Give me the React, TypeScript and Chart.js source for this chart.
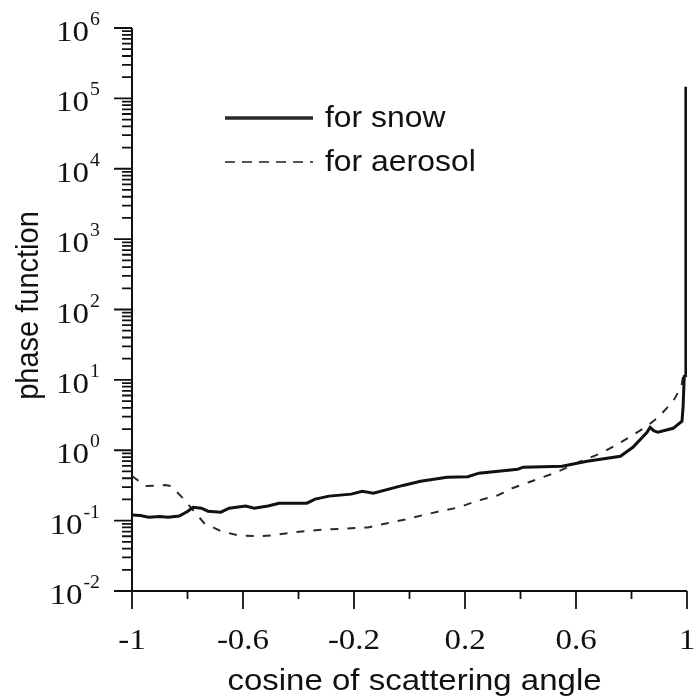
import React, { useEffect, useRef } from "react";
import { Chart, registerables } from "chart.js";

Chart.register(...registerables);

// ---- data ----
const snowX = [
  -1.0, -0.97, -0.94, -0.9, -0.87, -0.83, -0.8, -0.78, -0.75, -0.726, -0.68, -0.65,
  -0.59, -0.56, -0.51, -0.47, -0.37, -0.34, -0.29, -0.21, -0.17, -0.13, -0.02, 0.04,
  0.135, 0.21, 0.25, 0.39, 0.41, 0.55, 0.64, 0.76, 0.805, 0.856, 0.867, 0.88, 0.895,
  0.95, 0.982, 0.986, 0.99, 0.995, 0.996,
];
const snowY = [
  0.12, 0.118, 0.112, 0.114, 0.112, 0.116, 0.135, 0.155, 0.15, 0.136, 0.132, 0.15,
  0.161, 0.15, 0.161, 0.177, 0.177, 0.202, 0.223, 0.238, 0.262, 0.245, 0.319, 0.363,
  0.414, 0.42, 0.472, 0.537, 0.574, 0.593, 0.698, 0.822, 1.1, 1.8, 2.12, 1.9, 1.8,
  2.05, 2.58, 4.2, 11.2, 11.5, 146000,
];

const aerosolX = [
  -1.0, -0.95, -0.88, -0.86, -0.82, -0.74, -0.68, -0.62, -0.55, -0.49, -0.41, -0.34,
  -0.29, -0.21, -0.15, -0.08, -0.01, 0.05, 0.11, 0.18, 0.24, 0.32, 0.37, 0.43, 0.53,
  0.61, 0.69, 0.75, 0.81, 0.86, 0.9, 0.95, 0.98, 0.99,
];
const aerosolY = [
  0.43, 0.31, 0.32, 0.31, 0.216, 0.092, 0.071, 0.062, 0.06, 0.062, 0.069, 0.073,
  0.075, 0.078, 0.08, 0.092, 0.105, 0.12, 0.136, 0.155, 0.189, 0.23, 0.289, 0.351,
  0.487, 0.676, 0.906, 1.22, 1.69, 2.26, 3.04, 4.96, 8.1, 14.1,
];

const seriesLabels = ["for snow", "for aerosol"];
const xMajorTicks = [-1, -0.6, -0.2, 0.2, 0.6, 1];
const xMajorLabels = ["-1", "-0.6", "-0.2", "0.2", "0.6", "1"];
const xMinorTicks = [-0.8, -0.4, 0, 0.4, 0.8];
const yExponents = [-2, -1, 0, 1, 2, 3, 4, 5, 6];
const xTitle = "cosine of scattering angle";
const yTitle = "phase function";

const SX = 1.1; // horizontal stretch of the reference's lettering
const SANS = "29px 'Liberation Sans', Arial, sans-serif";
const SANS_X = "30px 'Liberation Sans', Arial, sans-serif";
const SERIF = "30px 'Liberation Serif', 'Times New Roman', serif";
const SERIF_SUP = "18px 'Liberation Serif', 'Times New Roman', serif";

function sText(ctx: CanvasRenderingContext2D, text: string, x: number, y: number, align: CanvasTextAlign) {
  ctx.save();
  ctx.translate(x, y);
  ctx.scale(SX, 1);
  ctx.textAlign = align;
  ctx.textBaseline = "alphabetic";
  ctx.fillText(text, 0, 0);
  ctx.restore();
}

const axesPlugin = {
  id: "customAxes",
  beforeDatasetsDraw(chart: any) {
    const ctx: CanvasRenderingContext2D = chart.ctx;
    const xs = chart.scales.x;
    const ys = chart.scales.y;
    const { left, right, top, bottom } = chart.chartArea;
    ctx.save();
    ctx.strokeStyle = "#111";
    ctx.fillStyle = "#111";
    ctx.lineWidth = 2;
    ctx.lineCap = "butt";
    // axis lines
    ctx.beginPath();
    ctx.moveTo(left, top);
    ctx.lineTo(left, bottom);
    ctx.moveTo(left, bottom);
    ctx.lineTo(right, bottom);
    ctx.stroke();
    // y ticks
    ctx.lineWidth = 1.8;
    ctx.beginPath();
    for (const e of yExponents) {
      const py = ys.getPixelForValue(Math.pow(10, e));
      ctx.moveTo(left - 18, py);
      ctx.lineTo(left, py);
      if (e < yExponents[yExponents.length - 1]) {
        for (let m = 2; m <= 9; m++) {
          const pm = ys.getPixelForValue(m * Math.pow(10, e));
          ctx.moveTo(left - 10, pm);
          ctx.lineTo(left, pm);
        }
      }
    }
    // x ticks
    for (const v of xMajorTicks) {
      const px = xs.getPixelForValue(v);
      ctx.moveTo(px, bottom);
      ctx.lineTo(px, bottom + 18);
    }
    for (const v of xMinorTicks) {
      const px = xs.getPixelForValue(v);
      ctx.moveTo(px, bottom);
      ctx.lineTo(px, bottom + 8);
    }
    ctx.stroke();

    // y tick labels 10^e
    for (const e of yExponents) {
      const py = ys.getPixelForValue(Math.pow(10, e));
      const expStr = String(e);
      ctx.font = SERIF_SUP;
      const ew = ctx.measureText(expStr).width * SX;
      const rightEdge = 100;
      sText(ctx, expStr, rightEdge, py - 3, "right");
      ctx.font = SERIF;
      sText(ctx, "10", rightEdge - ew - 1, py + 13, "right");
    }
    // x tick labels
    ctx.font = SERIF;
    xMajorTicks.forEach((v, i) => {
      const px = xs.getPixelForValue(v);
      sText(ctx, xMajorLabels[i], px, bottom + 58, "center");
    });

    // axis titles
    ctx.font = SANS_X;
    sText(ctx, xTitle, (left + right) / 2 + 5, 690, "center");
    ctx.font = SANS;
    ctx.save();
    ctx.translate(38, (top + bottom) / 2 - 4);
    ctx.scale(SX, 1);
    ctx.rotate(-Math.PI / 2);
    ctx.textAlign = "center";
    ctx.textBaseline = "alphabetic";
    ctx.fillText(yTitle, 0, 0);
    ctx.restore();
    ctx.restore();
  },
  afterDraw(chart: any) {
    const ctx: CanvasRenderingContext2D = chart.ctx;
    ctx.save();
    const rows = [118, 162];
    chart.data.datasets.forEach((ds: any, i: number) => {
      const y = rows[i];
      ctx.beginPath();
      ctx.strokeStyle = i === 0 ? "#2a2a2a" : "#555";
      ctx.lineWidth = i === 0 ? 3.5 : 2;
      ctx.setLineDash(i === 0 ? [] : [10, 7]);
      ctx.moveTo(225, y);
      ctx.lineTo(313, y);
      ctx.stroke();
      ctx.setLineDash([]);
      ctx.fillStyle = "#111";
      ctx.font = SANS;
      sText(ctx, ds.label, 325, y + 9, "left");
    });
    ctx.restore();
  },
};

export default function App() {
  const ref = useRef<HTMLCanvasElement | null>(null);
  useEffect(() => {
    if (!ref.current) return;
    const chart = new Chart(ref.current, {
      type: "line",
      data: {
        datasets: [
          {
            label: seriesLabels[0],
            data: snowX.map((x, i) => ({ x, y: snowY[i] })),
            borderColor: "#111",
            borderWidth: 3,
            pointRadius: 0,
            tension: 0,
            fill: false,
          },
          {
            label: seriesLabels[1],
            data: aerosolX.map((x, i) => ({ x, y: aerosolY[i] })),
            borderColor: "#2a2a2a",
            borderWidth: 2,
            borderDash: [8, 9],
            pointRadius: 0,
            tension: 0,
            fill: false,
          },
        ],
      },
      options: {
        animation: false,
        responsive: false,
        maintainAspectRatio: false,
        layout: { padding: { left: 132, right: 8, top: 28, bottom: 107 } },
        plugins: { legend: { display: false }, tooltip: { enabled: false }, title: { display: false } },
        scales: {
          x: { type: "linear", min: -1, max: 1, display: false },
          y: { type: "logarithmic", min: 0.01, max: 1e6, display: false },
        },
      },
      plugins: [axesPlugin],
    });
    return () => chart.destroy();
  }, []);
  return (
    <div style={{ position: "absolute", left: 0, top: 0, width: 695, height: 698, background: "#fff" }}>
      <canvas ref={ref} width={695} height={698} style={{ width: 695, height: 698 }} />
    </div>
  );
}
